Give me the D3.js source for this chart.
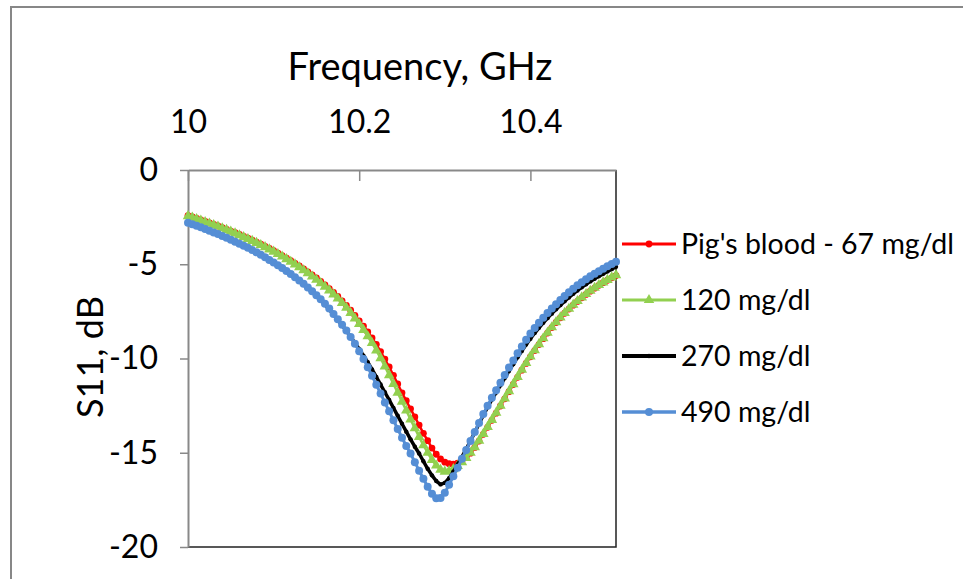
<!DOCTYPE html>
<html lang="en">
<head>
<meta charset="UTF-8">
<title>S11 vs frequency</title>
<script src="https://d3js.org/d3.v7.min.js"></script>
<style>
  body { margin: 0; background: #fff; }
  svg { display: block; font-family: Lato, "Open Sans", sans-serif; }
</style>
</head>
<body>
<div id="chart"></div>
<script>
// sweep grid: 10.000 .. 10.500 GHz, 101 points
const freqGHz = d3.range(0, 101).map(i => +(10 + i * 0.005).toFixed(3));

const seriesNames = ["Pig's blood - 67 mg/dl", "120 mg/dl", "270 mg/dl", "490 mg/dl"];

const s67 = [
  -2.42, -2.49, -2.57, -2.65, -2.73, -2.81, -2.89, -2.97, -3.06, -3.15,
  -3.24, -3.33, -3.42, -3.52, -3.62, -3.72, -3.83, -3.94, -4.05, -4.16,
  -4.28, -4.41, -4.54, -4.67, -4.81, -4.95, -5.09, -5.25, -5.41, -5.57,
  -5.73, -5.91, -6.09, -6.29, -6.49, -6.71, -6.94, -7.18, -7.44, -7.72,
  -8.00, -8.28, -8.59, -8.91, -9.25, -9.63, -10.03, -10.45, -10.89, -11.35,
  -11.82, -12.24, -12.67, -13.10, -13.53, -13.97, -14.36, -14.75, -15.08, -15.33,
  -15.50, -15.58, -15.60, -15.55, -15.44, -15.26, -15.02, -14.72, -14.38, -14.02,
  -13.65, -13.28, -12.90, -12.52, -12.14, -11.76, -11.38, -11.00, -10.62, -10.26,
  -9.91, -9.58, -9.26, -8.95, -8.65, -8.36, -8.09, -7.84, -7.60, -7.38,
  -7.17, -6.97, -6.78, -6.60, -6.43, -6.27, -6.12, -5.98, -5.85, -5.72,
  -5.60
];

const s120 = [
  -2.45, -2.52, -2.60, -2.68, -2.76, -2.84, -2.92, -3.00, -3.09, -3.18,
  -3.27, -3.36, -3.46, -3.56, -3.66, -3.76, -3.87, -3.98, -4.09, -4.21,
  -4.33, -4.46, -4.59, -4.73, -4.87, -5.01, -5.16, -5.32, -5.48, -5.65,
  -5.82, -6.00, -6.19, -6.39, -6.60, -6.82, -7.06, -7.31, -7.58, -7.87,
  -8.17, -8.48, -8.82, -9.18, -9.57, -9.98, -10.42, -10.88, -11.35, -11.82,
  -12.29, -12.76, -13.23, -13.70, -14.16, -14.60, -15.00, -15.38, -15.68, -15.90,
  -16.00, -15.97, -15.87, -15.70, -15.50, -15.27, -15.00, -14.70, -14.36, -14.00,
  -13.63, -13.26, -12.88, -12.50, -12.12, -11.74, -11.36, -10.98, -10.60, -10.24,
  -9.89, -9.56, -9.24, -8.93, -8.63, -8.34, -8.07, -7.82, -7.58, -7.36,
  -7.15, -6.95, -6.76, -6.58, -6.41, -6.25, -6.10, -5.96, -5.83, -5.70,
  -5.58
];

const s270 = [
  -2.84, -2.92, -3.00, -3.08, -3.17, -3.26, -3.35, -3.44, -3.54, -3.64,
  -3.74, -3.84, -3.95, -4.06, -4.17, -4.29, -4.41, -4.54, -4.67, -4.81,
  -4.95, -5.09, -5.24, -5.40, -5.56, -5.73, -5.90, -6.08, -6.27, -6.47,
  -6.68, -6.90, -7.14, -7.39, -7.67, -7.95, -8.23, -8.53, -8.86, -9.18,
  -9.50, -9.85, -10.20, -10.58, -10.98, -11.38, -11.79, -12.20, -12.62, -13.04,
  -13.46, -13.88, -14.29, -14.68, -15.04, -15.45, -15.85, -16.20, -16.50, -16.68,
  -16.60, -16.35, -16.00, -15.62, -15.22, -14.80, -14.37, -13.92, -13.46, -13.01,
  -12.58, -12.18, -11.80, -11.42, -11.04, -10.66, -10.30, -9.94, -9.60, -9.26,
  -8.95, -8.65, -8.37, -8.11, -7.86, -7.62, -7.39, -7.17, -6.96, -6.76,
  -6.57, -6.39, -6.22, -6.06, -5.91, -5.77, -5.64, -5.51, -5.38, -5.26,
  -5.13
];

const s490 = [
  -2.80, -2.88, -2.96, -3.04, -3.13, -3.22, -3.31, -3.40, -3.50, -3.60,
  -3.70, -3.80, -3.91, -4.02, -4.13, -4.25, -4.37, -4.50, -4.63, -4.77,
  -4.91, -5.05, -5.20, -5.36, -5.52, -5.69, -5.86, -6.04, -6.23, -6.43,
  -6.64, -6.86, -7.10, -7.35, -7.64, -7.92, -8.21, -8.52, -8.86, -9.22,
  -9.61, -10.02, -10.46, -10.92, -11.39, -11.86, -12.33, -12.80, -13.27, -13.74,
  -14.20, -14.64, -15.04, -15.50, -15.95, -16.38, -16.80, -17.18, -17.42, -17.40,
  -17.12, -16.70, -16.25, -15.80, -15.32, -14.85, -14.38, -13.90, -13.42, -12.95,
  -12.50, -12.08, -11.68, -11.28, -10.88, -10.48, -10.10, -9.72, -9.36, -9.00,
  -8.67, -8.38, -8.10, -7.84, -7.59, -7.35, -7.12, -6.90, -6.69, -6.49,
  -6.30, -6.12, -5.95, -5.79, -5.64, -5.50, -5.37, -5.24, -5.11, -4.99,
  -4.87
];

const xTicks = [10, 10.2, 10.4];
const yTicks = [0, -5, -10, -15, -20];

const W = 963, H = 579;
const plot = { left: 188, right: 616, top: 170, bottom: 547 };

const svg = d3.select('#chart').append('svg')
  .attr('width', W).attr('height', H);

// outer chart-area border (only left and top show in the crop)
svg.append('path')
  .attr('d', `M11,${H} L11,7 L${W},7`)
  .attr('fill', 'none')
  .attr('stroke', '#878787')
  .attr('stroke-width', 2);

const x = d3.scaleLinear().domain([10, 10.5]).range([plot.left, plot.right]);
const y = d3.scaleLinear().domain([-20, 0]).range([plot.bottom, plot.top]);

// plot frame: right and bottom edges
svg.append('path')
  .attr('d', `M${plot.left},${plot.bottom} L${plot.right},${plot.bottom} L${plot.right},${plot.top}`)
  .attr('fill', 'none')
  .attr('stroke', '#222')
  .attr('stroke-width', 1.5);

// x axis sits on top (at 0 dB), ticks point into the plot
const xAxis = svg.append('g')
  .attr('transform', `translate(0,${plot.top})`)
  .call(d3.axisTop(x).tickValues(xTicks).tickSizeInner(-11).tickSizeOuter(0)
    .tickPadding(37).tickFormat(d => d === 10 ? '10' : d3.format('.1f')(d)));
xAxis.select('.domain').attr('stroke', '#898989').attr('stroke-width', 2);
xAxis.selectAll('.tick line').attr('stroke', '#898989').attr('stroke-width', 1.5);
xAxis.selectAll('.tick text')
  .attr('font-size', 32).attr('fill', '#000')
  .attr('font-family', 'Lato, sans-serif');

// plain hyphen for negatives, as in the original
const yAxis = svg.append('g')
  .attr('transform', `translate(${plot.left},0)`)
  .call(d3.axisLeft(y).tickValues(yTicks).tickSizeInner(8).tickSizeOuter(0)
    .tickPadding(22).tickFormat(d => String(d)));
yAxis.select('.domain').attr('stroke', '#898989').attr('stroke-width', 2);
yAxis.selectAll('.tick line').attr('stroke', '#898989').attr('stroke-width', 1.5);
yAxis.selectAll('.tick text')
  .attr('font-size', 32).attr('fill', '#000')
  .attr('font-family', 'Lato, sans-serif');

// axis titles
svg.append('text')
  .attr('x', 420).attr('y', 80)
  .attr('text-anchor', 'middle')
  .attr('font-size', 38)
  .text('Frequency, GHz');

svg.append('text')
  .attr('transform', 'translate(103,357) rotate(-90)')
  .attr('text-anchor', 'middle')
  .attr('font-size', 36)
  .text('S11, dB');

// series
const series = [
  { name: seriesNames[0], values: s67,  color: '#ff0000', width: 2.5, marker: 'circle',   size: 3.4 },
  { name: seriesNames[1], values: s120, color: '#92d050', width: 2.5, marker: 'triangle', size: 48 },
  { name: seriesNames[2], values: s270, color: '#000000', width: 3.5, marker: 'circle',   size: 2.2 },
  { name: seriesNames[3], values: s490, color: '#558ed5', width: 3,   marker: 'circle',   size: 4 }
];

const line = d3.line()
  .x((d, i) => x(freqGHz[i]))
  .y(d => y(d));

function drawMarker(g, s, px, py) {
  if (s.marker === 'triangle') {
    g.append('path').attr('d', d3.symbol().type(d3.symbolTriangle).size(s.size)())
      .attr('transform', `translate(${px},${py})`)
      .attr('fill', s.color);
  } else {
    g.append('circle').attr('cx', px).attr('cy', py).attr('r', s.size)
      .attr('fill', s.color);
  }
}

series.forEach(s => {
  const g = svg.append('g');
  g.append('path')
    .datum(s.values)
    .attr('d', line)
    .attr('fill', 'none')
    .attr('stroke', s.color)
    .attr('stroke-width', s.width)
    .attr('stroke-linejoin', 'round');
  s.values.forEach((v, i) => drawMarker(g, s, x(freqGHz[i]), y(v)));
});

// legend
const legendY = d3.scalePoint().domain(seriesNames).range([244, 412]);
series.forEach(s => {
  const ly = legendY(s.name);
  const g = svg.append('g');
  g.append('line')
    .attr('x1', 622).attr('x2', 676).attr('y1', ly).attr('y2', ly)
    .attr('stroke', s.color).attr('stroke-width', s.width + 0.5);
  drawMarker(g, s, 649, ly);
  g.append('text')
    .attr('x', 681).attr('y', ly).attr('dy', '0.36em')
    .attr('font-size', 28.5)
    .text(s.name);
});
</script>
</body>
</html>
